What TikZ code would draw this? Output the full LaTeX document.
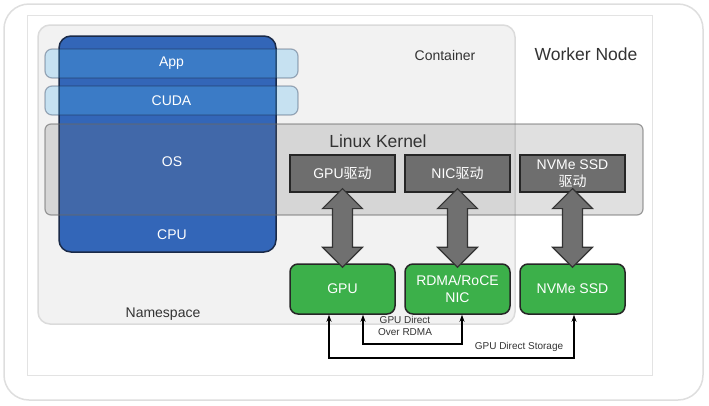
\documentclass[tikz,border=0pt]{standalone}
\usepackage{fontspec}
\setmainfont{Liberation Sans}
\newfontfamily\cjk{Noto Sans CJK SC}
\usetikzlibrary{positioning,arrows.meta,calc}

\definecolor{hostblue}{HTML}{3366B8}
\definecolor{hostline}{HTML}{1A2A48}
\definecolor{barblue}{HTML}{52B4EF}
\definecolor{kernelgrey}{HTML}{747374}
\definecolor{drvgrey}{HTML}{6E6E6E}
\definecolor{devgreen}{HTML}{3CB04A}
\definecolor{txtgrey}{HTML}{333333}

\begin{document}
\begin{tikzpicture}[x=1pt,y=-1pt,
    bar/.style={draw=hostline, draw opacity=0.35, fill=barblue, fill opacity=0.27,
      text opacity=1, rounded corners=7pt, line width=1.2pt, text=white, inner sep=0pt,
      font=\fontsize{14}{17}\selectfont},
    drv/.style={draw=black!85, fill=drvgrey, line width=1.2pt, text=white,
      minimum width=105pt, minimum height=37pt, inner sep=0pt, align=center,
      font=\fontsize{14}{17}\selectfont},
    dev/.style={draw=black!85, fill=devgreen, line width=1.5pt, rounded corners=8pt,
      text=white, minimum width=105pt, minimum height=50pt, inner sep=0pt,
      align=center, font=\fontsize{14}{17}\selectfont},
    fatarr/.style={draw=black!80, fill=black!56, line width=1.2pt, line join=miter},
    link/.style={line width=2pt, {Stealth[length=7pt,width=5pt]}-{Stealth[length=7pt,width=5pt]}},
    note/.style={text=txtgrey, align=center, inner sep=0pt, font=\fontsize{10}{12}\selectfont},
    title/.style={text=txtgrey, inner sep=0pt}
  ]
  \useasboundingbox (0,0) rectangle (709,405);

  % card and worker node frame
  \draw[black!13, line width=1.5pt, fill=white, rounded corners=25pt] (4,4) rectangle (703,400);
  \draw[black!11, line width=0.8pt] (27,15) rectangle (652,375);
  \node[title, font=\fontsize{17.5}{20}\selectfont] (worker) at (586,54) {Worker Node};

  % container / namespace
  \draw[black!14, line width=1.5pt, fill=black!5, rounded corners=12pt] (38,25) rectangle (515,324);
  \node[title, font=\fontsize{14}{17}\selectfont] (container) at (445,55) {Container};
  \node[title, font=\fontsize{14}{17}\selectfont] (namespace) at (163,314) {Namespace};

  % host block
  \node[draw=hostline, fill=hostblue, line width=1.5pt, rounded corners=12pt,
    minimum width=217pt, minimum height=216pt, inner sep=0pt] (host) at (167.5,144) {};

  % user space bars
  \node[bar, minimum width=253pt, minimum height=29pt] (app) at (171.5,63.5) {App};
  \node[bar, minimum width=253pt, minimum height=29pt] (cuda) at (171.5,100.5) {CUDA};

  % kernel
  \node[draw=black!60, draw opacity=0.6, fill=kernelgrey, fill opacity=0.22,
    rounded corners=6pt, line width=1.2pt, minimum width=598pt, minimum height=91pt,
    inner sep=0pt] (kernel) at (344,169.5) {};
  \node[title, font=\fontsize{17.5}{20}\selectfont] (kernellbl) at (378,141) {Linux Kernel};
  \node[text=white, font=\fontsize{14}{17}\selectfont] (os) at (172,162) {OS};
  \node[text=white, font=\fontsize{14}{17}\selectfont] (cpu) at (172,235) {CPU};

  % drivers
  \node[drv] (gpudrv) at (342.5,173.5) {GPU{\cjk 驱动}};
  \node[drv] (nicdrv) at (457.5,173.5) {NIC{\cjk 驱动}};
  \node[drv] (ssddrv) at (572.5,173.5) {NVMe SSD\\{\cjk 驱动}};

  % devices
  \node[dev] (gpu) at (342.5,289) {GPU};
  \node[dev] (nic) at (457.5,289) {RDMA/RoCE\\NIC};
  \node[dev] (ssd) at (572.5,289) {NVMe SSD};

  % fat double arrows
  \foreach \d/\h in {gpudrv/gpu, nicdrv/nic, ssddrv/ssd}
    \draw[fatarr] let \p1=(\d.south), \p2=(\h.north) in
      (\x1,\y1+4pt) -- (\x1+20pt,\y1-16pt) -- (\x1+10pt,\y1-16pt) -- (\x1+10pt,\y2+16pt)
      -- (\x1+20pt,\y2+16pt) -- (\x1,\y2-4pt) -- (\x1-20pt,\y2+16pt) -- (\x1-10pt,\y2+16pt)
      -- (\x1-10pt,\y1-16pt) -- (\x1-20pt,\y1-16pt) -- cycle;

  % direct paths
  \draw[link] ([xshift=20.5pt]gpu.south) -- ++(0,29) -| ([xshift=4.5pt]nic.south);
  \draw[link] ([xshift=-13.5pt]gpu.south) -- ++(0,43) -| ([xshift=1.5pt]ssd.south);
  \node[note] (gdr) at (405,326) {GPU Direct\\Over RDMA};
  \node[note] (gds) at (519,347) {GPU Direct Storage};
\end{tikzpicture}
\end{document}
